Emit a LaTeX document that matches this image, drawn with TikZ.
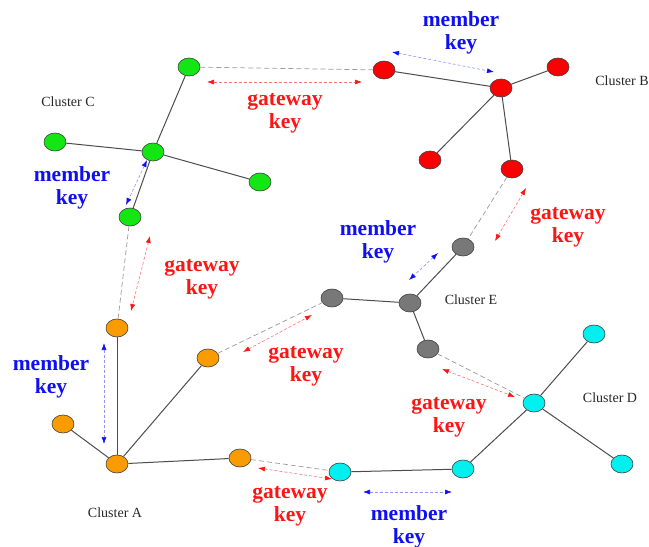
\documentclass[tikz,border=0pt]{standalone}
\usepackage{fontspec}
\setmainfont{Liberation Serif}
\usetikzlibrary{arrows.meta,shapes.geometric}
\definecolor{cgreen}{RGB}{20,230,20}
\definecolor{cred}{RGB}{250,0,0}
\definecolor{cgrey}{RGB}{120,120,120}
\definecolor{corange}{RGB}{250,155,0}
\definecolor{ccyan}{RGB}{0,240,240}
\definecolor{kred}{RGB}{255,20,20}
\definecolor{kblue}{RGB}{15,15,245}
\begin{document}
\begin{tikzpicture}[x=1pt,y=-1pt,
  vertex/.style={ellipse, draw=black!75, line width=0.6pt, minimum width=22pt, minimum height=18pt, inner sep=0pt},
  edge/.style={draw=black!70, line width=1pt},
  link/.style={draw=black!40, dash pattern=on 5pt off 3pt, line width=0.7pt},
  gkey/.style={draw=kred!60, dash pattern=on 3pt off 2pt, line width=0.6pt,
    {Latex[length=7pt,width=5pt,color=kred]}-{Latex[length=7pt,width=5pt,color=kred]}},
  mkey/.style={draw=kblue!45, dash pattern=on 3pt off 2pt, line width=0.6pt,
    {Latex[length=7pt,width=5pt,color=kblue]}-{Latex[length=7pt,width=5pt,color=kblue]}},
  keylbl/.style={font=\fontsize{21.5}{23}\selectfont\bfseries, align=center, inner sep=0pt},
  cluster/.style={font=\fontsize{14}{16}\selectfont, text=black!85, inner sep=0pt}]
\useasboundingbox (0,0) rectangle (649,547);

% cluster C (green)
\node[vertex, fill=cgreen] (g1) at (189,67) {};
\node[vertex, fill=cgreen] (g2) at (153,152) {};
\node[vertex, fill=cgreen] (g3) at (55,142) {};
\node[vertex, fill=cgreen] (g4) at (260,182) {};
\node[vertex, fill=cgreen] (g5) at (130,217) {};
% cluster B (red)
\node[vertex, fill=cred] (r1) at (384,70) {};
\node[vertex, fill=cred] (r2) at (501,88) {};
\node[vertex, fill=cred] (r3) at (558,67) {};
\node[vertex, fill=cred] (r4) at (430,160) {};
\node[vertex, fill=cred] (r5) at (512,169) {};
% cluster E (grey)
\node[vertex, fill=cgrey] (e1) at (463,247) {};
\node[vertex, fill=cgrey] (e2) at (410,303) {};
\node[vertex, fill=cgrey] (e3) at (332,298) {};
\node[vertex, fill=cgrey] (e4) at (428,349) {};
% cluster A (orange)
\node[vertex, fill=corange] (o1) at (117,328) {};
\node[vertex, fill=corange] (o2) at (208,358) {};
\node[vertex, fill=corange] (o3) at (63,424) {};
\node[vertex, fill=corange] (o4) at (117,464) {};
\node[vertex, fill=corange] (o5) at (240,458) {};
% cluster D (cyan)
\node[vertex, fill=ccyan] (c1) at (340,472) {};
\node[vertex, fill=ccyan] (c2) at (463,469) {};
\node[vertex, fill=ccyan] (c3) at (534,403) {};
\node[vertex, fill=ccyan] (c4) at (594,334) {};
\node[vertex, fill=ccyan] (c5) at (622,464) {};

% links inside each cluster
\draw[edge] (g1) -- (g2); \draw[edge] (g3) -- (g2);
\draw[edge] (g2) -- (g4); \draw[edge] (g2) -- (g5);
\draw[edge] (r1) -- (r2); \draw[edge] (r2) -- (r3);
\draw[edge] (r2) -- (r4); \draw[edge] (r2) -- (r5);
\draw[edge] (e1) -- (e2); \draw[edge] (e3) -- (e2); \draw[edge] (e2) -- (e4);
\draw[edge] (o1) -- (o4); \draw[edge] (o2) -- (o4);
\draw[edge] (o3) -- (o4); \draw[edge] (o5) -- (o4);
\draw[edge] (c1) -- (c2); \draw[edge] (c2) -- (c3);
\draw[edge] (c3) -- (c4); \draw[edge] (c3) -- (c5);

% gateway links between clusters
\draw[link] (g1) -- (r1);
\draw[link] (g5) -- (o1);
\draw[link] (r5) -- (e1);
\draw[link] (o2) -- (e3);
\draw[link] (e4) -- (c3);
\draw[link] (o5) -- (c1);

% gateway key exchanges
\coordinate (ga1) at (207,82);  \coordinate (ga2) at (362,82);
\coordinate (gb1) at (150,236); \coordinate (gb2) at (131,311);
\coordinate (gc1) at (526,188); \coordinate (gc2) at (495,241);
\coordinate (gd1) at (243,352); \coordinate (gd2) at (312,315);
\coordinate (ge1) at (442,369); \coordinate (ge2) at (515,397);
\coordinate (gf1) at (258,468); \coordinate (gf2) at (332,479);
\draw[gkey] (ga1) -- (ga2);
\draw[gkey] (gb1) -- (gb2);
\draw[gkey] (gc1) -- (gc2);
\draw[gkey] (gd1) -- (gd2);
\draw[gkey] (ge1) -- (ge2);
\draw[gkey] (gf1) -- (gf2);

% member key exchanges
\coordinate (ma1) at (392,52);  \coordinate (ma2) at (494,72);
\coordinate (mb1) at (147,160); \coordinate (mb2) at (126,205);
\coordinate (mc1) at (104,343); \coordinate (mc2) at (104,444);
\coordinate (md1) at (438,253); \coordinate (md2) at (409,280);
\coordinate (me1) at (363,492); \coordinate (me2) at (452,492);
\draw[mkey] (ma1) -- (ma2);
\draw[mkey] (mb1) -- (mb2);
\draw[mkey] (mc1) -- (mc2);
\draw[mkey] (md1) -- (md2);
\draw[mkey] (me1) -- (me2);

% key labels
\node[keylbl, text=kred] (tga) at (285,113) {gateway\\key};
\node[keylbl, text=kred] (tgb) at (202,279) {gateway\\key};
\node[keylbl, text=kred] (tgc) at (568,227) {gateway\\key};
\node[keylbl, text=kred] (tgd) at (306,366) {gateway\\key};
\node[keylbl, text=kred] (tge) at (449,417) {gateway\\key};
\node[keylbl, text=kred] (tgf) at (290,506) {gateway\\key};
\node[keylbl, text=kblue] (tma) at (461,33) {member\\key};
\node[keylbl, text=kblue] (tmb) at (72,188) {member\\key};
\node[keylbl, text=kblue] (tmc) at (51,377) {member\\key};
\node[keylbl, text=kblue] (tmd) at (378,242) {member\\key};
\node[keylbl, text=kblue] (tme) at (409,527) {member\\key};

% cluster names
\node[cluster] (la) at (115,513) {Cluster A};
\node[cluster] (lb) at (622,81) {Cluster B};
\node[cluster] (lc) at (68,102) {Cluster C};
\node[cluster] (ld) at (610,398) {Cluster D};
\node[cluster] (le) at (471,300) {Cluster E};
\end{tikzpicture}
\end{document}
